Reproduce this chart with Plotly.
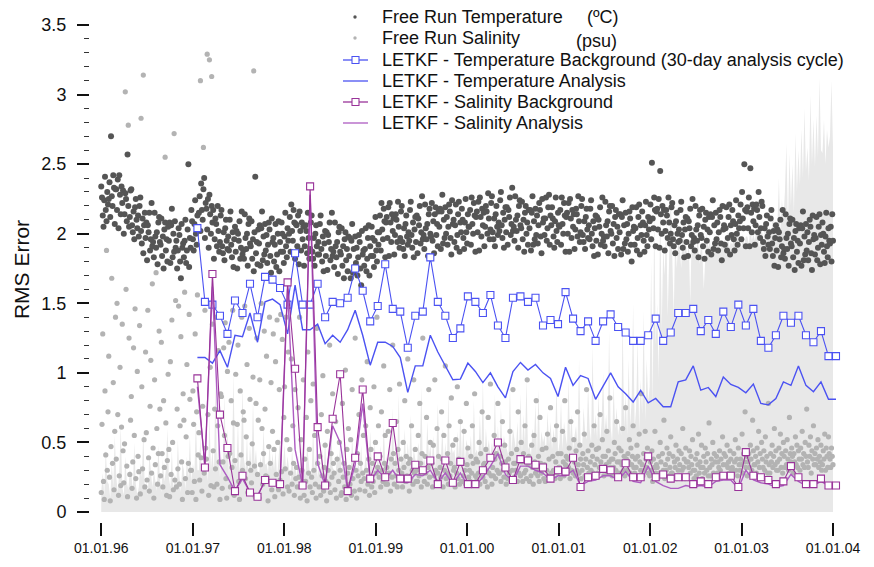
import pandas as pd
import plotly.graph_objects as go

# ---------------- data ----------------
year_ticks = ["1996-01-01", "1997-01-01", "1998-01-01", "1999-01-01", "2000-01-01",
              "2001-01-01", "2002-01-01", "2003-01-01", "2004-01-01"]
year_tick_labels = ["01.01.96", "01.01.97", "01.01.98", "01.01.99", "01.01.00",
                    "01.01.01", "01.01.02", "01.01.03", "01.01.04"]

free_run_start = "1996-01-01"
free_run_step_days = 3          # one free-run sample every 3 days
spread_step_days = 6
letkf_start = "1997-01-19"
letkf_cycle_days = 30           # 30-day analysis cycle

# Free run temperature RMS error (hundredths of degC), one value per 3 days
temp_free_run_centi = [
    234,226,213,205,224,241,217,209,230,221, 225,237,212,270,227,220,242,233,207,232,
    232,217,239,204,242,228,214,234,222,231, 200,214,229,225,209,257,220,205,212,231,
    232,206,201,216,196,219,225,210,204,213, 198,220,226,202,193,211,186,206,215,197,
    208,181,206,201,215,188,196,222,191,194, 183,215,198,190,201,178,208,212,194,192,
    211,184,198,175,203,208,188,196,180,205, 195,208,179,206,218,183,200,187,209,190,
    195,175,188,204,199,180,168,207,190,193, 183,195,210,179,188,203,250,176,197,190,
    217,209,196,188,207,224,200,192,213,204, 215,227,202,236,217,210,232,240,197,222,
    218,203,225,190,228,214,200,220,208,217, 182,196,211,207,191,220,202,187,194,213,
    217,191,186,201,181,204,210,195,189,198, 188,210,216,192,183,201,176,196,205,187,
    202,175,200,195,209,182,190,216,185,188, 182,214,197,189,200,177,207,211,193,191,
    209,182,196,173,201,241,186,194,178,203, 193,206,177,204,216,181,198,185,207,188,
    199,179,192,208,203,184,172,211,194,197, 180,192,207,176,185,200,209,173,194,187,
    208,200,187,179,198,215,191,183,204,195, 200,212,187,221,202,195,217,208,182,207,
    206,191,213,178,216,202,188,208,196,205, 177,191,206,202,186,215,197,182,189,208,
    213,187,182,197,177,200,206,191,185,194, 185,207,213,189,180,198,173,193,202,184,
    201,174,199,194,208,181,189,215,184,187, 176,208,191,183,194,171,201,205,187,185,
    204,177,191,168,196,201,181,189,173,198, 184,197,168,195,207,172,189,176,198,179,
    190,170,183,199,194,175,163,202,185,188, 177,189,204,173,182,197,206,170,191,184,
    205,197,184,176,195,212,188,180,201,192, 201,213,188,222,203,196,218,209,183,208,
    212,197,219,184,222,208,194,214,202,211, 185,199,214,210,194,223,205,190,197,216,
    220,194,189,204,184,207,213,198,192,201, 195,217,223,199,190,208,183,203,212,194,
    213,186,211,206,220,193,201,227,196,199, 189,221,204,196,207,184,214,218,200,198,
    222,195,209,186,214,219,199,207,191,216, 205,218,189,216,228,193,210,197,219,200,
    212,192,205,221,216,197,185,224,207,210, 194,206,221,190,199,214,223,187,208,201,
    218,210,197,189,208,225,201,193,214,205, 205,217,192,226,207,200,222,213,187,212,
    216,201,223,188,226,212,198,218,206,215, 191,205,220,216,200,229,211,196,203,222,
    227,201,196,211,191,214,220,205,199,208, 202,224,230,206,197,215,190,210,219,201,
    219,192,217,212,226,199,207,233,202,205, 195,227,210,202,213,190,220,224,206,204,
    223,196,210,187,215,220,200,208,192,217, 204,217,188,215,227,192,209,196,218,199,
    213,193,206,222,217,198,186,225,208,211, 199,211,226,195,204,219,228,192,213,206,
    219,211,198,190,209,226,202,194,215,206, 205,217,192,226,207,200,222,213,187,212,
    215,200,222,187,225,211,197,217,205,214, 189,203,218,214,198,227,209,194,201,220,
    225,199,194,209,189,212,218,203,197,206, 196,218,224,200,191,209,184,204,213,195,
    212,185,210,205,219,192,200,226,195,198, 191,223,206,198,209,186,216,220,202,200,
    220,193,207,184,212,217,197,205,189,214, 201,214,185,212,224,189,206,193,215,196,
    207,187,200,216,211,192,180,219,202,205, 192,204,219,188,197,212,221,185,206,199,
    216,208,195,187,206,223,199,191,212,203, 209,221,196,251,211,204,226,217,191,216,
    218,203,225,190,245,214,200,220,208,217, 188,202,217,213,197,226,208,193,200,219,
    222,196,191,206,186,209,215,200,194,203, 195,217,223,199,190,208,183,203,212,194,
    211,184,209,204,218,191,199,225,194,197, 188,220,203,195,206,183,213,217,199,197,
    218,191,205,182,210,215,195,203,187,212, 201,214,185,212,224,189,206,193,215,196,
    208,188,201,217,212,193,181,220,203,206, 192,204,219,188,197,212,221,185,206,199,
    217,209,196,188,207,224,200,192,213,204, 209,221,196,230,211,204,250,217,191,216,
    219,204,226,191,247,215,201,221,209,218, 192,206,221,217,201,230,212,197,204,223,
    220,194,189,204,184,207,213,198,192,201, 189,211,217,193,184,202,177,197,206,188,
    203,176,201,196,210,183,191,217,186,189, 182,214,197,189,200,177,207,211,193,191,
    210,183,197,174,202,207,187,195,179,204, 193,206,177,204,216,181,198,185,207,188,
    201,181,194,210,205,186,174,213,196,199, 185,197,212,181,190,205,214,178,199,192,
    208,200,187,179,198,215,191,183,204,195, 193,205,180,214,195,
]

# Free run salinity RMS error (hundredths of psu), one value per 3 days
sal_free_run_centi = [
    14,63,128,22,9,87,41,188,30,72, 112,25,8,47,168,35,93,16,58,140,
    38,150,70,12,26,104,19,61,135,44, 21,49,302,160,33,11,278,125,27,66,
    83,17,36,118,55,146,24,10,101,40, 29,134,13,283,90,31,314,52,18,115,
    57,23,145,39,15,76,109,28,164,46, 10,95,34,172,60,20,42,130,74,26,
    122,42,18,80,32,255,64,12,37,99, 45,11,108,27,138,50,16,272,23,152,
    18,74,31,148,20,62,126,36,9,85, 66,158,24,54,106,14,35,142,81,30,
    30,14,87,63,22,128,9,72,156,41, 57,23,310,39,15,76,262,28,145,46,
    38,329,70,12,325,104,19,313,135,44, 18,74,31,140,20,62,116,36,9,85,
    83,17,36,118,55,136,24,10,101,40, 122,42,18,80,32,145,64,12,37,99,
    14,63,120,22,9,87,41,140,30,72, 66,148,24,54,106,14,35,132,81,30,
    21,49,97,317,33,11,78,125,27,66, 10,95,34,150,60,20,42,130,74,26,
    112,25,8,47,140,35,93,16,58,128, 45,11,108,27,138,50,16,88,23,142,
    29,124,13,68,90,31,140,52,18,115, 15,45,28,110,20,62,35,12,88,24,
    32,18,75,25,140,10,52,30,22,95, 12,38,22,68,8,115,28,45,18,80,
    25,14,92,30,55,20,10,132,35,62, 18,40,12,70,26,98,15,32,48,22,
    8,58,30,20,120,14,42,25,85,35, 28,16,65,10,38,150,22,50,30,12,
    14,78,25,35,18,102,9,45,28,60, 32,20,52,12,88,24,40,15,125,30,
    10,42,26,70,16,35,22,95,28,55, 24,15,62,30,108,20,38,12,75,45,
    18,35,22,90,14,50,28,140,32,62, 25,40,18,72,30,22,105,35,55,20,
    32,20,58,28,88,15,38,25,120,42, 20,35,26,65,18,45,30,92,24,38,
    28,18,50,32,80,22,40,26,110,35, 15,38,24,62,30,20,95,28,45,22,
    30,22,55,26,78,35,18,42,125,28, 22,40,28,68,20,32,88,25,50,35,
    35,18,48,26,95,30,22,60,28,40, 20,32,25,72,38,18,55,30,105,24,
    28,42,20,62,26,35,82,22,48,30, 32,18,52,28,90,24,38,20,65,35,
    22,36,26,58,30,20,78,34,46,25, 30,22,40,28,62,35,20,85,26,38,
    24,36,28,50,20,42,30,72,25,34, 35,22,45,30,18,68,28,40,92,26,
    20,32,26,55,38,24,42,30,78,28, 28,40,22,35,65,30,25,48,36,20,
    32,24,38,28,58,22,42,30,88,35, 25,35,30,45,22,72,28,38,26,50,
    36,22,42,28,62,30,24,95,34,40, 22,38,26,48,32,20,55,36,28,80,
    30,26,40,22,68,35,28,45,32,24, 34,22,46,30,56,26,38,24,75,28,
    26,40,30,52,24,36,62,28,42,32, 32,24,42,30,58,36,26,80,34,40,
    28,38,32,46,24,65,30,40,28,52, 36,26,44,30,72,34,28,48,38,24,
    30,42,34,56,26,38,88,32,44,28, 24,36,30,48,40,28,62,34,26,45,
    38,28,46,32,70,36,30,52,40,26, 30,40,34,58,28,44,36,82,32,38,
    26,38,32,50,42,30,65,36,28,46, 36,28,44,34,60,30,40,26,75,38,
    30,42,36,52,28,46,34,40,62,32, 28,38,32,48,40,26,56,36,30,85,
    34,26,42,30,58,38,32,46,28,40, 26,36,30,44,22,38,32,58,28,34,
    32,24,40,28,50,36,26,42,30,66, 24,34,30,46,38,26,42,32,54,28,
    28,40,26,36,32,48,24,38,30,44, 34,26,42,30,60,32,38,24,46,36,
    26,36,32,44,28,40,34,52,30,24, 30,38,26,42,34,56,28,36,32,48,
    24,32,40,28,46,36,30,42,26,64, 32,26,38,34,50,28,42,36,24,40,
    28,36,32,44,30,38,26,54,34,42, 26,40,34,48,32,36,28,44,38,30,
    32,28,42,36,52,30,38,26,46,34, 30,38,34,56,28,42,36,72,32,40,
    26,36,42,32,48,38,30,66,44,34, 34,40,28,46,36,58,32,42,26,50,
    38,32,44,30,54,36,40,28,78,34, 28,42,36,48,32,40,60,34,44,30,
    36,30,46,38,56,32,42,28,50,40, 32,44,34,52,38,30,68,42,36,46,
    40,28,42,36,54,34,48,32,44,38, 30,46,38,58,34,42,32,50,40,74,
    36,32,48,40,54,28,44,38,62,34, 42,34,46,38,52,32,40,36,48,30,
    34,44,38,56,30,46,40,32,54,42, 38,32,46,40,34,
]

# Free run salinity error envelope (hundredths of psu), one value per 6 days
sal_spread_centi = [
    15,28,12,45,22, 20,10,35,18,55, 25,14,30,62,18, 12,40,22,16,30, 28,15,50,20,12,
    18,35,25,58,15, 22,12,42,28,18, 30,20,15,48,25, 14,38,22,30,60, 25,18,45,15,28,
    20,52,26,14,35, 30,16,40,24,55, 22,35,28,65,30, 30,55,25,40,28, 35,22,70,30,45,
    28,95,32,50,25, 40,30,85,35,60, 25,45,30,100,38, 32,65,28,42,90, 38,30,55,25,48,
    30,80,35,45,28, 26,40,30,60,34, 35,28,50,30,42, 30,45,25,38,55, 28,35,48,30,40,
    30,22,45,28,35, 25,40,30,55,22, 32,28,48,35,26, 28,60,30,42,25, 35,30,45,28,52,
    26,38,30,65,32, 30,28,42,35,48, 25,45,30,38,28, 32,28,55,30,40, 28,35,30,48,26,
    30,42,28,36,58, 35,30,50,28,40, 32,48,30,62,35, 40,30,55,35,75, 30,45,38,85,32,
    42,35,60,30,50, 35,70,32,45,38, 30,50,40,90,35, 38,32,65,40,48, 35,55,30,42,78,
    40,38,60,35,50, 32,85,38,48,42, 45,35,58,40,70, 38,62,35,52,45, 40,55,35,80,42,
    45,38,70,42,95, 38,60,45,52,40, 50,42,85,38,62, 40,75,45,55,48, 45,40,90,42,60,
    52,45,65,40,85, 42,70,48,95,45, 48,40,60,52,78, 40,88,45,58,50, 55,42,72,48,65,
    45,60,50,92,42, 50,80,45,65,55, 48,95,52,70,45, 55,62,48,110,50, 45,75,58,52,90,
    60,50,120,55,70, 52,85,48,65,100, 58,70,55,130,62, 50,92,60,75,55, 65,55,140,60,85,
    55,110,62,80,150, 60,75,125,58,95, 70,145,65,110,80, 90,180,75,215,120, 150,95,225,130,190,
    170,210,140,195,230, 185,140,200,175,195, 190,175,205,185,195, 180,195,150,200,188, 192,185,198,178,190,
    188,160,182,200,190, 195,185,192,188,198, 190,200,185,195,192, 196,188,202,190,194, 192,198,190,205,195,
    195,190,200,192,198, 198,192,205,195,200, 195,202,198,190,205, 200,195,208,198,202, 205,198,215,200,210,
    205,240,200,225,210, 230,265,205,258,220, 250,215,272,230,260, 235,275,240,290,245, 262,238,300,250,282,
    248,285,255,312,260, 258,282,250,275,262, 270,310,262,
]

# LETKF (every 30 days)
letkf_temp_bg = [
    2.04,1.51,1.49,1.41,1.28,1.52,1.43,1.64,1.40,1.69,1.67,1.61,1.49,1.86,1.49,1.49,1.64,1.40,1.51,1.50,
    1.54,1.75,1.59,1.37,1.48,1.78,1.46,1.44,1.18,1.41,1.44,1.83,1.51,1.41,1.25,1.32,1.55,1.51,1.43,1.56,
    1.34,1.25,1.54,1.55,1.51,1.54,1.34,1.38,1.35,1.58,1.39,1.30,1.37,1.23,1.37,1.42,1.33,1.29,1.23,1.23,
    1.27,1.39,1.23,1.29,1.43,1.43,1.46,1.30,1.38,1.28,1.44,1.33,1.49,1.34,1.46,1.23,1.18,1.27,1.41,1.36,
    1.41,1.27,1.22,1.30,1.12,1.12,
]
letkf_temp_an = [
    1.11,1.11,1.07,1.16,1.04,1.27,1.26,1.43,1.22,1.51,1.53,1.49,1.28,1.63,1.31,1.31,1.35,1.21,1.27,1.22,
    1.31,1.45,1.27,1.055,1.22,1.22,1.19,1.11,0.86,1.05,1.05,1.27,1.15,1.05,0.95,0.955,1.07,1.01,0.93,1.00,
    0.90,0.82,1.01,1.075,1.02,1.06,1.00,0.96,0.83,1.04,0.91,0.98,0.96,0.81,0.91,1.00,0.90,0.85,0.79,0.875,
    0.785,0.816,0.756,0.756,0.935,0.95,1.05,0.876,0.895,0.83,0.97,0.917,0.895,0.857,0.92,0.78,0.77,0.816,0.935,0.91,
    1.05,0.91,0.864,0.935,0.81,0.81,
]
letkf_sal_bg = [
    0.96,0.32,1.71,0.70,0.46,0.15,0.26,0.14,0.11,0.23,0.21,0.20,1.65,1.03,0.19,2.34,0.61,0.19,0.67,0.99,
    0.15,0.39,0.88,0.24,0.40,0.25,0.64,0.24,0.24,0.34,0.30,0.37,0.20,0.37,0.21,0.36,0.20,0.20,0.30,0.39,
    0.50,0.32,0.23,0.38,0.37,0.34,0.32,0.24,0.30,0.29,0.39,0.18,0.25,0.26,0.31,0.30,0.25,0.35,0.25,0.25,
    0.40,0.25,0.27,0.24,0.25,0.25,0.20,0.22,0.20,0.25,0.26,0.26,0.18,0.43,0.26,0.25,0.23,0.20,0.22,0.33,
    0.25,0.20,0.20,0.24,0.19,0.19,
]
letkf_sal_an = [
    0.90,0.34,1.62,0.34,0.25,0.15,0.24,0.14,0.12,0.22,0.21,0.19,1.60,0.45,0.19,2.28,0.35,0.19,0.62,0.50,
    0.15,0.34,0.78,0.22,0.30,0.24,0.30,0.22,0.21,0.27,0.26,0.30,0.21,0.28,0.20,0.28,0.19,0.19,0.25,0.33,
    0.42,0.27,0.22,0.33,0.33,0.30,0.28,0.23,0.26,0.26,0.30,0.19,0.22,0.23,0.26,0.26,0.23,0.29,0.22,0.21,
    0.33,0.22,0.19,0.17,0.17,0.19,0.18,0.19,0.18,0.22,0.23,0.23,0.17,0.30,0.23,0.21,0.20,0.18,0.19,0.27,
    0.22,0.19,0.19,0.22,0.19,0.19,
]

# ---------------- derived ----------------
temp_dates = pd.date_range(free_run_start, periods=len(temp_free_run_centi), freq=f"{free_run_step_days}D")
sal_dates = pd.date_range(free_run_start, periods=len(sal_free_run_centi), freq=f"{free_run_step_days}D")
spread_dates = pd.date_range(free_run_start, periods=len(sal_spread_centi), freq=f"{spread_step_days}D")
letkf_dates = pd.date_range(letkf_start, periods=len(letkf_temp_bg), freq=f"{letkf_cycle_days}D")

temp_free_run = [v / 100 for v in temp_free_run_centi]
sal_free_run = [v / 100 for v in sal_free_run_centi]
sal_spread = [v / 100 for v in sal_spread_centi]

# ---------------- style ----------------
FONT = "Liberation Sans, Arial, Helvetica, sans-serif"
DARK = "#555555"
LIGHT = "#b3b3b3"
FILLC = "#e8e8e8"
BLUE = "#4b52f2"
PURPLE = "#993399"
PURPLE_AN = "#ad5cc2"

W, H = 874, 567
PL, PR, PT, PB = 90, 850, 17, 522   # plot area in pixels

fig = go.Figure()

fig.add_trace(go.Scatter(x=spread_dates, y=sal_spread, mode="lines", line=dict(width=0),
                         fill="tozeroy", fillcolor=FILLC, showlegend=False, hoverinfo="skip",
                         name="Free Run Salinity spread"))
fig.add_trace(go.Scatter(x=sal_dates, y=sal_free_run, mode="markers",
                         marker=dict(color=LIGHT, size=5.2), name="Free Run Salinity"))
fig.add_trace(go.Scatter(x=temp_dates, y=temp_free_run, mode="markers",
                         marker=dict(color=DARK, size=6), name="Free Run Temperature"))
fig.add_trace(go.Scatter(x=letkf_dates, y=letkf_temp_an, mode="lines",
                         line=dict(color=BLUE, width=1.4), name="LETKF - Temperature Analysis"))
fig.add_trace(go.Scatter(x=letkf_dates, y=letkf_temp_bg, mode="lines+markers",
                         line=dict(color=BLUE, width=1.1),
                         marker=dict(symbol="square", size=7, color="white", line=dict(color=BLUE, width=1.1)),
                         name="LETKF - Temperature Background (30-day analysis cycle)"))
fig.add_trace(go.Scatter(x=letkf_dates, y=letkf_sal_an, mode="lines",
                         line=dict(color=PURPLE_AN, width=1.4), name="LETKF - Salinity Analysis"))
fig.add_trace(go.Scatter(x=letkf_dates, y=letkf_sal_bg, mode="lines+markers",
                         line=dict(color=PURPLE, width=1.1),
                         marker=dict(symbol="square", size=7, color="white", line=dict(color=PURPLE, width=1.1)),
                         name="LETKF - Salinity Background"))

# ---------------- manual legend (pixel layout) ----------------
def px(xp):
    return (xp - PL) / (PR - PL)

def py(yp):
    return (PB - yp) / (PB - PT)

legend_rows = [
    ("Free Run Temperature", "dot", DARK, 17),
    ("Free Run Salinity", "dot", LIGHT, 38),
    ("LETKF - Temperature Background (30-day analysis cycle)", "linesq", BLUE, 60),
    ("LETKF - Temperature Analysis", "line", BLUE, 81),
    ("LETKF - Salinity Background", "linesq", PURPLE, 102),
    ("LETKF - Salinity Analysis", "line", PURPLE_AN, 123),
]
shapes = []
annotations = []
for text, kind, col, yc in legend_rows:
    annotations.append(dict(text=text, x=px(380), y=py(yc), xref="paper", yref="paper",
                            xanchor="left", yanchor="middle", showarrow=False,
                            font=dict(family=FONT, size=18, color="#111111")))
    if kind == "dot":
        shapes.append(dict(type="circle", xref="paper", yref="paper",
                           x0=px(353.3), x1=px(356.7), y0=py(yc + 1.7), y1=py(yc - 1.7),
                           fillcolor=col, line=dict(width=0)))
    else:
        shapes.append(dict(type="line", xref="paper", yref="paper",
                           x0=px(343), x1=px(368), y0=py(yc), y1=py(yc),
                           line=dict(color=col, width=1.3)))
        if kind == "linesq":
            shapes.append(dict(type="rect", xref="paper", yref="paper",
                               x0=px(352), x1=px(359), y0=py(yc + 3.5), y1=py(yc - 3.5),
                               fillcolor="white", line=dict(color=col, width=1.1)))

annotations.append(dict(text="(ºC)", x=px(585), y=py(17), xref="paper", yref="paper",
                        xanchor="left", yanchor="middle", showarrow=False,
                        font=dict(family=FONT, size=18, color="#111111")))
annotations.append(dict(text="(psu)", x=px(574), y=py(41), xref="paper", yref="paper",
                        xanchor="left", yanchor="middle", showarrow=False,
                        font=dict(family=FONT, size=18, color="#111111")))

fig.update_layout(
    width=W, height=H,
    margin=dict(l=PL, r=W - PR, t=PT, b=H - PB, pad=0),
    paper_bgcolor="white", plot_bgcolor="white",
    showlegend=False,
    font=dict(family=FONT, color="#111111"),
    shapes=shapes, annotations=annotations,
    xaxis=dict(type="date", range=["1995-11-17 02:00", "2004-03-08 22:00"],
               tickvals=year_ticks, ticktext=year_tick_labels,
               ticks="outside", ticklen=13, tickwidth=2, tickcolor="#111111",
               tickfont=dict(family=FONT, size=14, color="#111111"),
               showgrid=False, zeroline=False, showline=False),
    yaxis=dict(range=[-0.0719, 3.5575], tick0=0, dtick=0.5,
               ticks="outside", ticklen=12, tickwidth=2.2, tickcolor="#111111",
               minor=dict(dtick=0.1, ticks="outside", ticklen=5, tickwidth=1, tickcolor="#333333"),
               tickfont=dict(family=FONT, size=18, color="#111111"),
               ticklabelstandoff=7,
               title=dict(text="RMS Error", font=dict(family=FONT, size=21, color="#111111"), standoff=6),
               showgrid=False, zeroline=False, showline=False),
)

fig.write_html("out.html")
